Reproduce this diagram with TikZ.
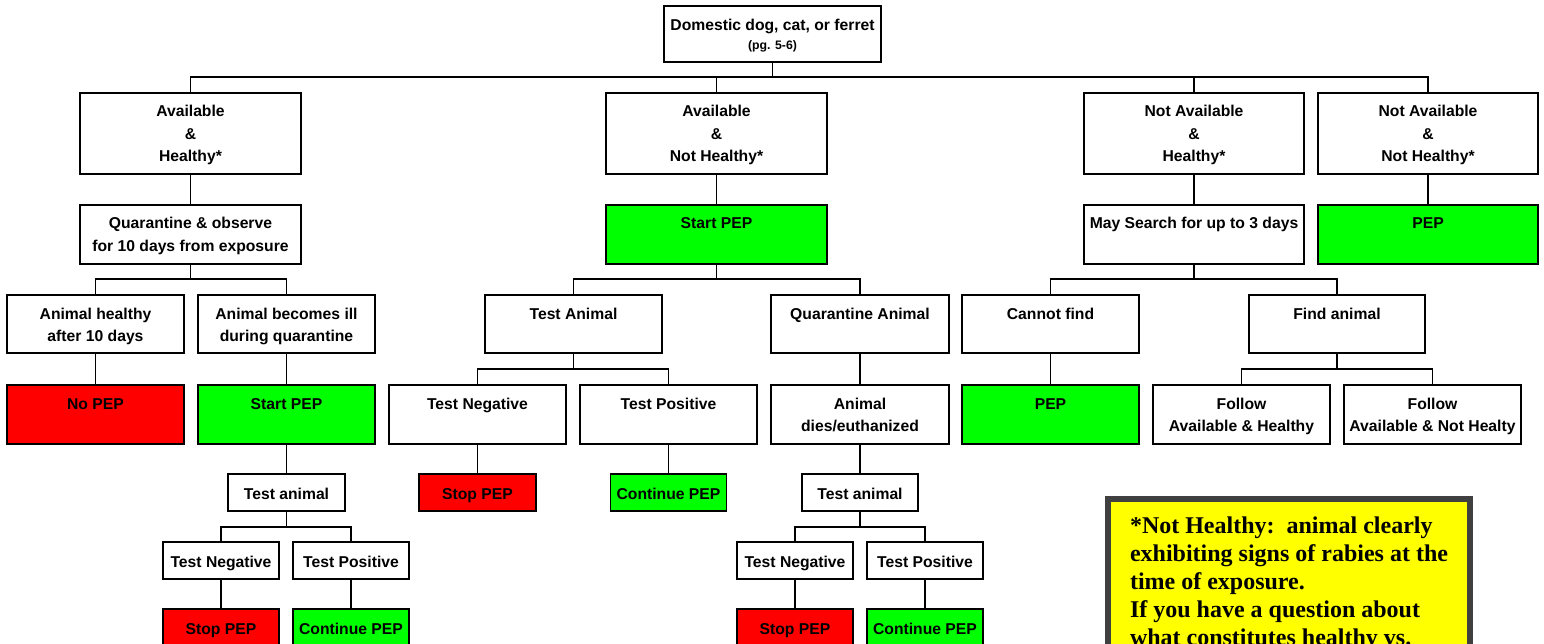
\documentclass[tikz,border=0pt]{standalone}
\usepackage{fontspec}
\setmainfont{Liberation Sans}
\newfontfamily\notefont{Liberation Serif}
\definecolor{pgreen}{HTML}{00FF00}
\definecolor{pred}{HTML}{FF0000}
\definecolor{pyellow}{HTML}{FFFF00}
\definecolor{pgray}{HTML}{404040}
\tikzset{
  bx/.style={draw, line width=1.7pt, inner sep=0pt, outer sep=0pt, anchor=north, fill=white,
    font=\fontsize{15.7}{22.5}\selectfont\bfseries},
  grn/.style={bx, fill=pgreen},
  rd/.style={bx, fill=pred},
  conn/.style={line width=1.7pt},
}
\newcommand\bt[3]{\parbox[b][#2pt][t]{#1pt}{\centering\rule{0pt}{24pt}#3\par}}
\newcommand\bs[2]{\parbox[b][37pt][t]{#1pt}{\centering\rule{0pt}{25pt}#2\par}}
\begin{document}
\begin{tikzpicture}[x=1pt,y=-1pt]
\useasboundingbox (0,0) rectangle (1544,644);
\clip (0,0) rectangle (1544,644);
\fill[white] (0,0) rectangle (1544,644);
% bus levels
\coordinate (busA) at (0,77);
\coordinate (busB) at (0,279);
\coordinate (busC) at (0,369);
\coordinate (busD) at (0,527);
% root
\node[bx] (root) at (772.5,6) {\parbox[b][56pt][t]{217pt}{\centering\rule{0pt}{25pt}Domestic dog, cat, or ferret\\[-3.5pt]{\fontsize{12.3}{13}\selectfont (pg. 5-6)}\par}};
% row 1
\node[bx] (a1) at (190.5,93) {\bt{221}{81}{Available\\\&\\Healthy*}};
\node[bx] (a2) at (716.5,93) {\bt{221}{81}{Available\\\&\\Not Healthy*}};
\node[bx] (a3) at (1194,93) {\bt{220}{81}{Not Available\\\&\\Healthy*}};
\node[bx] (a4) at (1428,93) {\bt{220}{81}{Not Available\\\&\\Not Healthy*}};
% row 2
\node[bx] (b1) at (190.5,205) {\bt{221}{59}{Quarantine \& observe\\for 10 days from exposure}};
\node[grn] (b2) at (716.5,205) {\bt{221}{59}{Start PEP}};
\node[bx] (b3) at (1194,205) {\bt{220}{59}{May Search for up to 3 days}};
\node[grn] (b4) at (1428,205) {\bt{220}{59}{PEP}};
% row 3
\node[bx] (c1) at (95.5,295) {\bt{177}{58}{Animal healthy\\after 10 days}};
\node[bx] (c2) at (286.5,295) {\bt{177}{58}{Animal becomes ill\\during quarantine}};
\node[bx] (c3) at (573.5,295) {\bt{177}{58}{Test Animal}};
\node[bx] (c4) at (860,295) {\bt{178}{58}{Quarantine Animal}};
\node[bx] (c5) at (1050.5,295) {\bt{177}{58}{Cannot find}};
\node[bx] (c6) at (1337,295) {\bt{176}{58}{Find animal}};
% row 4
\node[rd] (d1) at (95.5,385) {\bt{177}{59}{No PEP}};
\node[grn] (d2) at (286.5,385) {\bt{177}{59}{Start PEP}};
\node[bx] (d3) at (477.5,385) {\bt{177}{59}{Test Negative}};
\node[bx] (d4) at (668.5,385) {\bt{177}{59}{Test Positive}};
\node[bx] (d5) at (860,385) {\bt{178}{59}{Animal\\dies/euthanized}};
\node[grn] (d6) at (1050.5,385) {\bt{177}{59}{PEP}};
\node[bx] (d7) at (1241.5,385) {\bt{177}{59}{Follow\\Available \& Healthy}};
\node[bx] (d8) at (1432.5,385) {\bt{177}{59}{Follow\\Available \& Not Healty}};
% row 5
\node[bx] (e1) at (286.5,474) {\bs{117}{Test animal}};
\node[rd] (e2) at (477.5,474) {\bs{117}{Stop PEP}};
\node[grn] (e3) at (668.5,474) {\bs{116}{Continue PEP}};
\node[bx] (e4) at (860,474) {\bs{116}{Test animal}};
% row 6
\node[bx] (f1) at (221,542) {\bs{116}{Test Negative}};
\node[bx] (f2) at (351,542) {\bs{116}{Test Positive}};
\node[bx] (f3) at (795,542) {\bs{116}{Test Negative}};
\node[bx] (f4) at (925,542) {\bs{116}{Test Positive}};
% row 7
\node[rd] (g1) at (221,609) {\bs{116}{Stop PEP}};
\node[grn] (g2) at (351,609) {\bs{116}{Continue PEP}};
\node[rd] (g3) at (795,609) {\bs{116}{Stop PEP}};
\node[grn] (g4) at (925,609) {\bs{116}{Continue PEP}};
% connectors
\draw[conn] (root.south) -- (root.south |- busA);
\draw[conn] (a1.north) -- (a1.north |- busA) -- (a4.north |- busA) -- (a4.north);
\draw[conn] (a2.north) -- (a2.north |- busA);
\draw[conn] (a3.north) -- (a3.north |- busA);
\draw[conn] (a1.south) -- (b1.north);
\draw[conn] (a2.south) -- (b2.north);
\draw[conn] (a3.south) -- (b3.north);
\draw[conn] (a4.south) -- (b4.north);
\draw[conn] (b1.south) -- (b1.south |- busB);
\draw[conn] (c1.north) -- (c1.north |- busB) -- (c2.north |- busB) -- (c2.north);
\draw[conn] (b2.south) -- (b2.south |- busB);
\draw[conn] (c3.north) -- (c3.north |- busB) -- (c4.north |- busB) -- (c4.north);
\draw[conn] (b3.south) -- (b3.south |- busB);
\draw[conn] (c5.north) -- (c5.north |- busB) -- (c6.north |- busB) -- (c6.north);
\draw[conn] (c1.south) -- (d1.north);
\draw[conn] (c2.south) -- (d2.north);
\draw[conn] (c3.south) -- (c3.south |- busC);
\draw[conn] (d3.north) -- (d3.north |- busC) -- (d4.north |- busC) -- (d4.north);
\draw[conn] (c4.south) -- (d5.north);
\draw[conn] (c5.south) -- (d6.north);
\draw[conn] (c6.south) -- (c6.south |- busC);
\draw[conn] (d7.north) -- (d7.north |- busC) -- (d8.north |- busC) -- (d8.north);
\draw[conn] (d2.south) -- (e1.north);
\draw[conn] (d3.south) -- (e2.north);
\draw[conn] (d4.south) -- (e3.north);
\draw[conn] (d5.south) -- (e4.north);
\draw[conn] (e1.south) -- (e1.south |- busD);
\draw[conn] (f1.north) -- (f1.north |- busD) -- (f2.north |- busD) -- (f2.north);
\draw[conn] (e4.south) -- (e4.south |- busD);
\draw[conn] (f3.north) -- (f3.north |- busD) -- (f4.north |- busD) -- (f4.north);
\draw[conn] (f1.south) -- (g1.north);
\draw[conn] (f2.south) -- (g2.north);
\draw[conn] (f3.south) -- (g3.north);
\draw[conn] (f4.south) -- (g4.north);
% note
\node[draw=pgray, line width=6pt, fill=pyellow, inner sep=0pt, outer sep=0pt, anchor=north west,
  font=\notefont\bfseries\fontsize{24}{28}\selectfont] (note) at (1108,499)
  {\parbox[b][250pt][t]{362pt}{\raggedright\leftskip=22pt\rule{0pt}{34pt}*Not Healthy:\ \ animal clearly\\exhibiting signs of rabies at the\\time of exposure.\\If you have a question about\\what constitutes healthy vs.\par}};
\end{tikzpicture}
\end{document}
